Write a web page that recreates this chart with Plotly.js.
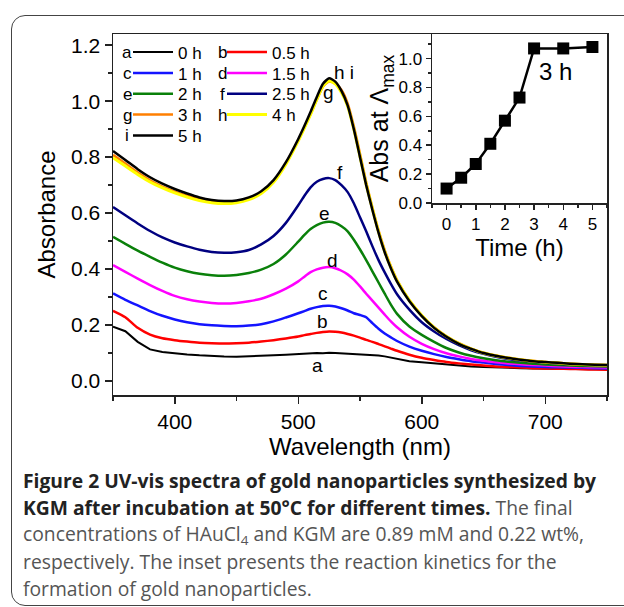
<!DOCTYPE html>
<html><head><meta charset="utf-8">
<script src="https://cdn.plot.ly/plotly-3.0.1.min.js"></script>
<style>
html,body{margin:0;padding:0;background:#fff;overflow:hidden;}
#chart{position:absolute;left:0;top:0;width:624px;height:607px;}
#frame{position:absolute;left:11px;top:15px;width:660px;height:591px;border:1.5px solid #444;border-radius:14px;pointer-events:none;box-sizing:border-box;}
</style>
</head><body><div id="chart"></div><div id="frame"></div>
<script>
// ---- data ----
const wavelength = [350,360,370,380,390,400,410,420,430,440,450,460,470,480,490,500,
  505,510,515,520,525,530,535,540,545,550,555,560,565,570,575,580,
  590,600,610,620,630,640,650,660,670,680,690,700,710,720,730,740,750];

const abs0h = [.194,.178,.140,.113,.104,.099,.095,.092,.089,.088,.087,.088,.090,.092,.094,.097,
  .098,.099,.100,.099,.101,.100,.099,.098,.097,.096,.094,.093,.091,.088,.084,.079,
  .071,.067,.063,.058,.055,.052,.050,.048,.047,.046,.045,.044,.044,.043,.043,.042,.042];
const abs05h = [.251,.228,.190,.166,.153,.146,.141,.137,.135,.134,.135,.137,.141,.146,.152,.159,
  .164,.168,.172,.175,.177,.176,.173,.168,.162,.155,.147,.140,.132,.124,.116,.108,
  .094,.083,.075,.068,.063,.059,.055,.052,.050,.048,.046,.045,.044,.043,.042,.041,.040];
const abs1h = [.313,.290,.270,.250,.233,.220,.210,.203,.199,.197,.196,.198,.203,.213,.227,.242,
  .250,.258,.264,.268,.269,.266,.260,.252,.242,.236,.228,.207,.187,.170,.156,.143,
  .123,.108,.096,.086,.078,.071,.066,.061,.057,.054,.052,.050,.049,.048,.047,.046,.045];
const abs15h = [.414,.390,.366,.343,.322,.304,.292,.284,.279,.277,.279,.285,.294,.310,.330,.356,
  .373,.389,.399,.405,.407,.403,.394,.381,.362,.338,.312,.287,.262,.237,.213,.192,
  .158,.133,.114,.099,.088,.079,.072,.067,.063,.060,.057,.055,.053,.051,.050,.049,.048];
const abs2h = [.515,.490,.466,.444,.423,.405,.392,.383,.378,.376,.379,.386,.398,.418,.452,.498,
  .522,.543,.557,.566,.569,.565,.553,.535,.505,.470,.432,.392,.352,.312,.273,.240,
  .195,.165,.140,.118,.102,.090,.081,.074,.069,.065,.062,.059,.057,.055,.054,.053,.052];
const abs25h = [.622,.592,.563,.536,.513,.495,.481,.469,.461,.458,.460,.468,.488,.518,.565,.628,
  .662,.692,.712,.722,.725,.718,.700,.675,.635,.585,.535,.482,.432,.388,.347,.310,
  .255,.210,.177,.150,.128,.110,.097,.087,.079,.073,.069,.065,.062,.060,.058,.056,.055];
const abs3h = [.808,.777,.745,.717,.695,.677,.662,.649,.641,.638,.641,.652,.674,.714,.778,.860,
  .906,.954,1.005,1.052,1.070,1.062,1.040,.992,.910,.812,.710,.620,.538,.468,.410,.361,
  .289,.235,.192,.160,.135,.116,.101,.091,.083,.077,.072,.068,.065,.062,.060,.058,.057];
const abs4h = [.798,.768,.738,.711,.690,.672,.657,.645,.637,.634,.637,.648,.670,.710,.775,.858,
  .905,.953,1.006,1.054,1.073,1.062,1.031,.982,.900,.802,.703,.616,.533,.463,.406,.358,
  .288,.234,.191,.159,.134,.115,.100,.090,.082,.076,.071,.067,.064,.061,.059,.057,.056];
const abs5h = [.822,.790,.757,.728,.705,.686,.670,.656,.647,.643,.645,.656,.678,.718,.782,.865,
  .912,.962,1.015,1.062,1.082,1.070,1.037,.985,.900,.800,.700,.612,.530,.460,.403,.355,
  .285,.232,.190,.158,.133,.115,.100,.090,.082,.076,.071,.068,.065,.062,.060,.058,.057];

const seriesLetters = ['a','b','c','d','e','f','g','h','i'];
const seriesNames = ['0 h','0.5 h','1 h','1.5 h','2 h','2.5 h','3 h','4 h','5 h'];
const seriesValues = [abs0h,abs05h,abs1h,abs15h,abs2h,abs25h,abs3h,abs4h,abs5h];

const insetTime = [0,0.5,1,1.5,2,2.5,3,4,5];
const insetAbs = [0.10,0.175,0.27,0.41,0.57,0.73,1.07,1.07,1.08];

// ---- styles ----
const colors = ['#000000','#ff0000','#1414ff','#ff00ff','#0a800a','#000080','#ff7f00','#ffff00','#000000'];
const widths = [2,2.5,2.5,2.5,2.5,2.5,2.5,3,2.5];
const FONT = 'Arial, "Liberation Sans", sans-serif';
const AX = '#222';

// main plot: l=113, r=607, t=34, b=395
const PL=113, PR=607, PT=34, PB=395;
const px = v => (v-PL)/(PR-PL);
const py = v => (PB-v)/(PB-PT);
const ROW0 = 52.5, ROWSTEP = 20.85;
const legendKey = k => (k===0 ? 'legend' : 'legend'+(k+1));

const traces = seriesValues.map((vals,k)=>({
  type:'scatter', mode:'lines', x:wavelength, y:vals,
  name:seriesNames[k],
  legend: legendKey(k),
  line:{color:colors[k], width:widths[k], shape:(k===0?'linear':'spline'), smoothing:0.6},
  xaxis:'x', yaxis:'y'
}));
traces.push({
  type:'scatter', mode:'lines+markers', x:insetTime, y:insetAbs,
  xaxis:'x2', yaxis:'y2', showlegend:false,
  line:{color:'#000', width:2.5},
  marker:{symbol:'square', size:12, color:'#000'}
});

const annotations = [];
// curve letters
const labelSpots = [[515.7,0.054,'a'],[519.7,0.211,'b'],[519.7,0.314,'c'],[527.8,0.432,'d'],
  [521.4,0.600,'e'],[533.5,0.746,'f'],[524.3,1.032,'g'],[537,1.104,'h i']];
labelSpots.forEach(s=>annotations.push({x:s[0],y:s[1],xref:'x',yref:'y',text:s[2],showarrow:false,
  font:{family:FONT,size:19,color:'#000'},xanchor:'center',yanchor:'middle'}));
// legend letters
seriesLetters.forEach((L,k)=>{
  const col = k%2, row = Math.floor(k/2);
  annotations.push({xref:'paper',yref:'paper',x:px(col===0?127:222),y:py(ROW0+ROWSTEP*row),text:L,showarrow:false,
    font:{family:FONT,size:17,color:'#000'},xanchor:'center',yanchor:'middle'});
});
// inset note
annotations.push({x:3.75,y:0.91,xref:'x2',yref:'y2',text:'3 h',showarrow:false,font:{family:FONT,size:24,color:'#000'}});
// caption
const CAP = '"Open Sans", Lato, sans-serif';
const capLines = [
  '<b>Figure 2 UV-vis spectra of gold nanoparticles synthesized by</b>',
  '<b>KGM after incubation at 50°C for different times.</b><span style="color:#555"> The final</span>',
  '<span style="color:#555">concentrations of HAuCl<sub>4</sub> and KGM are 0.89 mM and 0.22 wt%,</span>',
  '<span style="color:#555">respectively. The inset presents the reaction kinetics for the</span>',
  '<span style="color:#555">formation of gold nanoparticles.</span>'
];
const capY = [480,507,534,561,588];
capLines.forEach((t,k)=>annotations.push({xref:'paper',yref:'paper',x:px(21),y:py(capY[k]),text:t,showarrow:false,
  xanchor:'left',yanchor:'middle',align:'left',font:{family:CAP,size:19.3,color:'#222'}}));

const baseAxis = {showline:true, linecolor:AX, linewidth:1.5, ticks:'outside', tickwidth:1.5, tickcolor:AX,
  showgrid:false, zeroline:false, automargin:false};

const layout = {
  width:624, height:607,
  margin:{l:PL, r:624-PR, t:PT, b:607-PB, pad:0},
  paper_bgcolor:'rgba(0,0,0,0)', plot_bgcolor:'rgba(0,0,0,0)',
  font:{family:FONT, color:'#000'},
  showlegend:true,
  xaxis:Object.assign({}, baseAxis, {domain:[0,1], range:[350,750], mirror:true, ticklen:7,
    tickvals:[400,500,600,700], minor:{dtick:50, tick0:350, ticks:'outside', ticklen:4, tickwidth:1.5, tickcolor:AX},
    tickfont:{size:21}, title:{text:'Wavelength (nm)', font:{size:24}, standoff:1}}),
  yaxis:Object.assign({}, baseAxis, {domain:[0,1], range:[-0.05,1.24], mirror:true, ticklen:7,
    tickvals:[0,0.2,0.4,0.6,0.8,1.0,1.2], tickformat:'.1f',
    minor:{dtick:0.1, tick0:0, ticks:'outside', ticklen:4, tickwidth:1.5, tickcolor:AX},
    tickfont:{size:21}, title:{text:'Absorbance', font:{size:24}, standoff:8}}),
  xaxis2:Object.assign({}, baseAxis, {domain:[px(432),1], anchor:'y2', range:[-0.5,5.5], ticklen:5,
    tickvals:[0,1,2,3,4,5], minor:{dtick:0.5, tick0:0, ticks:'outside', ticklen:3, tickwidth:1.5, tickcolor:AX},
    tickfont:{size:17}, title:{text:'Time (h)', font:{size:24}, standoff:5}}),
  yaxis2:Object.assign({}, baseAxis, {domain:[py(203),1], anchor:'x2', range:[0,1.17], ticklen:5,
    tickvals:[0,0.2,0.4,0.6,0.8,1.0], tickformat:'.1f',
    minor:{dtick:0.1, tick0:0, ticks:'outside', ticklen:3, tickwidth:1.5, tickcolor:AX},
    tickfont:{size:17}, title:{text:'Abs at Λ<sub>max</sub>', font:{size:25}, standoff:2}}),
  annotations:annotations
};
for (let k=0; k<seriesNames.length; k++) {
  const col = k%2, row = Math.floor(k/2);
  layout[legendKey(k)] = {x:px(col===0?128:222), y:py(ROW0+ROWSTEP*row), xanchor:'left', yanchor:'middle',
    bgcolor:'rgba(0,0,0,0)', borderwidth:0, font:{family:FONT,size:17,color:'#000'},
    itemwidth:40, tracegroupgap:0, traceorder:'normal'};
}

Plotly.newPlot('chart', traces, layout, {displayModeBar:false, staticPlot:true});
</script>
</body></html>
